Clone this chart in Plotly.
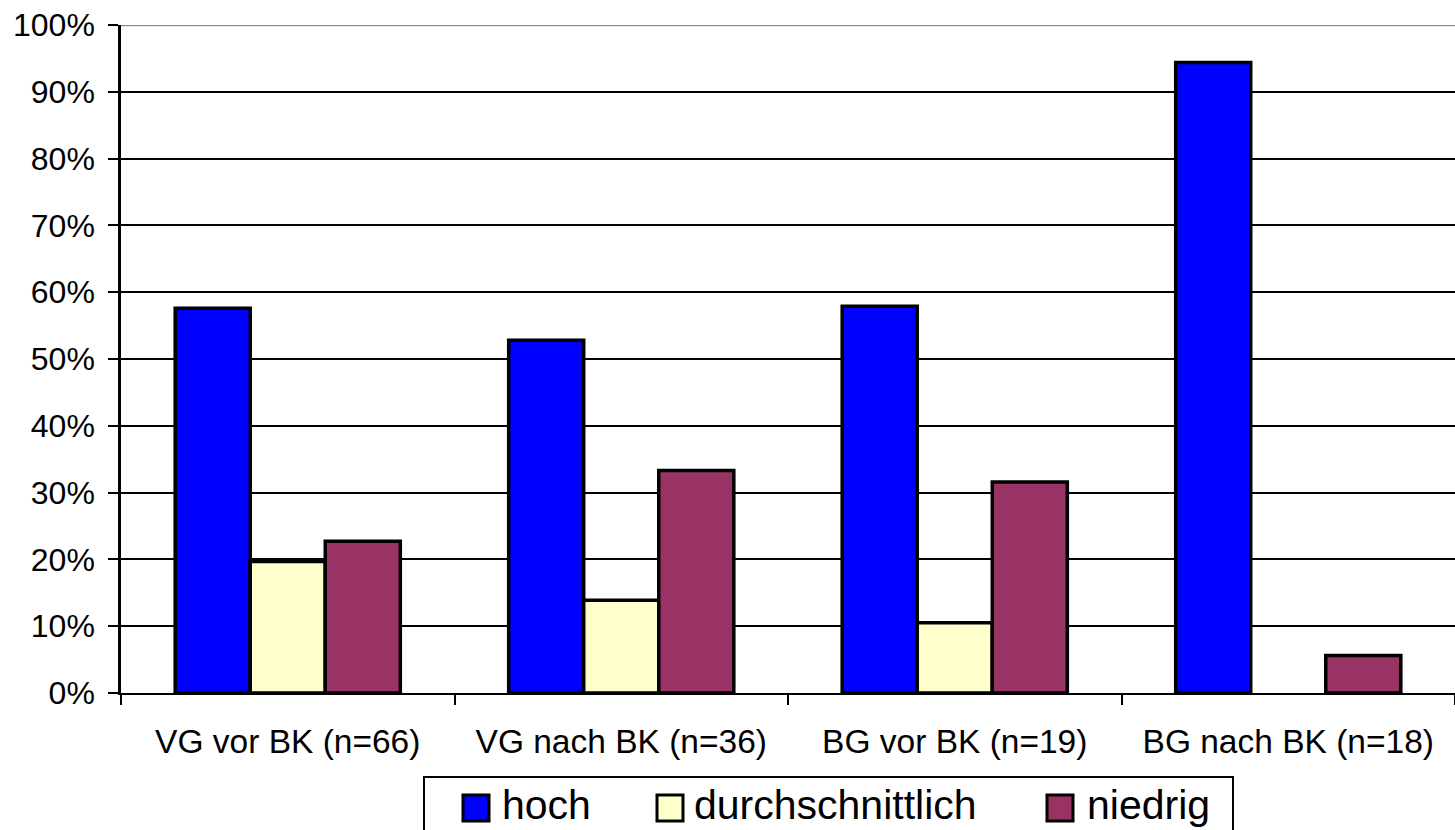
import plotly.graph_objects as go

categories = ["VG vor BK (n=66)", "VG nach BK (n=36)", "BG vor BK (n=19)", "BG nach BK (n=18)"]
hoch = [57.6, 52.8, 57.9, 94.4]
durchschnittlich = [19.7, 13.9, 10.5, 0.0]
niedrig = [22.7, 33.3, 31.6, 5.6]
series_names = ["hoch", "durchschnittlich", "niedrig"]
colors = ["#0000FF", "#FFFFCC", "#993366"]

# plot area in pixels (for placing the hand-drawn legend)
W, H = 1455, 830
L, R, T, B = 121, 0, 25, 137
pw, ph = W - L - R, H - T - B


def px_x(x):
    return (x - L) / pw


def px_y(y):
    return (H - B - y) / ph


fig = go.Figure()
for name, vals, col in zip(series_names, [hoch, durchschnittlich, niedrig], colors):
    fig.add_trace(go.Bar(
        x=categories, y=vals, name=name, showlegend=False,
        marker=dict(color=col,
                    line=dict(color="black", width=[3.5 if v > 0 else 0 for v in vals])),
    ))

font = "Liberation Sans, Arial, sans-serif"

shapes = [
    # top gridline (grey in the original)
    dict(type="line", xref="paper", yref="y", x0=0, x1=1, y0=100, y1=100,
         line=dict(color="#8c8c8c", width=2.5), layer="above"),
    # legend box
    dict(type="rect", xref="paper", yref="paper",
         x0=px_x(424), x1=px_x(1233), y0=px_y(777), y1=px_y(850),
         line=dict(color="black", width=2), fillcolor="white"),
]
annotations = []
sq_x = [463, 657, 1047]
txt_x = [500, 692, 1085]
for name, col, sx, tx in zip(series_names, colors, sq_x, txt_x):
    shapes.append(dict(type="rect", xref="paper", yref="paper",
                       x0=px_x(sx), x1=px_x(sx + 26), y0=px_y(795), y1=px_y(821),
                       line=dict(color="black", width=3), fillcolor=col))
    annotations.append(dict(xref="paper", yref="paper", x=px_x(tx), y=px_y(805),
                            xanchor="left", yanchor="middle", showarrow=False,
                            text=name, font=dict(family=font, size=41, color="black")))

fig.update_layout(
    width=W, height=H,
    margin=dict(l=L, r=R, t=T, b=B),
    plot_bgcolor="white", paper_bgcolor="white",
    barmode="group", bargap=0.325, bargroupgap=0,
    font=dict(family=font, size=32, color="black"),
    showlegend=False,
    shapes=shapes,
    annotations=annotations,
    xaxis=dict(
        showline=True, linecolor="black", linewidth=2,
        ticks="outside", ticklen=10, tickcolor="black", tickwidth=2,
        tickson="boundaries", showgrid=False, automargin=False,
        tickfont=dict(size=33.5), ticklabelstandoff=18,
    ),
    yaxis=dict(
        range=[0, 100], dtick=10, ticksuffix="%",
        showline=True, linecolor="black", linewidth=2.5,
        ticks="outside", ticklen=10, tickcolor="black", tickwidth=2,
        showgrid=True, gridcolor="black", gridwidth=1.5, automargin=False,
        zeroline=False, tickfont=dict(size=32), ticklabelstandoff=7,
    ),
)
fig.write_html(
    "out.html",
    config={"displayModeBar": False},
    post_script="document.body.style.margin='0';document.body.style.overflow='hidden';",
)
